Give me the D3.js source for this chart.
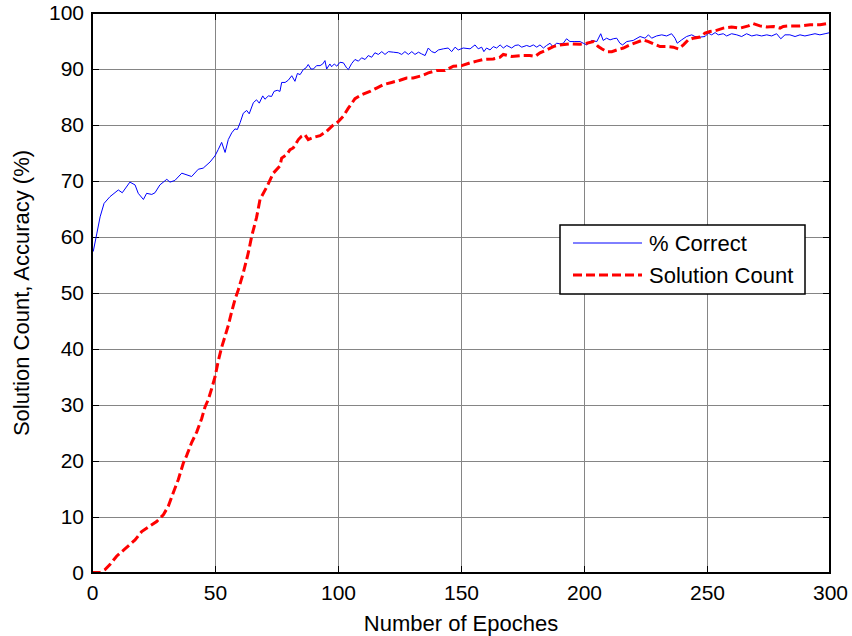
<!DOCTYPE html>
<html lang="en">
<head>
<meta charset="UTF-8">
<title>Solution Count and Accuracy</title>
<script src="https://d3js.org/d3.v7.min.js"></script>
<style>
    body { margin: 0; background: white; }
    svg { display: block; font-family: "Liberation Sans", Arial, sans-serif; }
    .grid line { stroke: #858585; stroke-width: 1; shape-rendering: crispEdges; }
</style>
</head>
<body>
<svg id="chart"></svg>
<script>
// epochs / values
const correctEpochs = [0.5,2,3.3,4.9,7.3,10.7,12.3,15.4,17.5,18.8,20.9,22.2,24.3,25.6,27.6,30.4,31.7,33.7,36.5,40.5,43.2,45.2,48,50,51.3,52.7,54.1,55.4,56.8,58.1,59.1,60.2,61.5,62.9,63.9,65.6,66.9,68,69.4,70.3,71.7,73,74,75.3,76.4,77.1,78.5,79.8,81.2,82.5,83.5,84.6,85.9,87,87.9,89,90,91.3,92.7,93.8,94.7,95.4,96.7,97.4,98.5,99.5,100.8,102.2,103.5,104.2,105.6,106.9,108.3,109.6,111,112.3,113.7,115,116.4,117.8,119.1,120.5,122.5,124.5,125.9,127.2,128.6,130,131.3,132.7,134,135.4,136.7,138.1,139.4,140.8,142.8,144.8,146.2,147.6,148.9,150.9,153.7,155.7,157,158.4,159.3,160.4,161.8,163.1,164.5,165.9,167.2,168.6,170.6,172,173.3,174.7,176.7,178,179.4,180.8,182.1,183.5,184.8,186.2,187.3,188.9,190.2,191.6,192.9,194.3,196.3,198.4,199.7,201.1,203.1,205.2,206.8,207.8,209.2,210.6,211.9,213.3,214.6,215.7,217.4,220,222.8,224.8,226.2,227.5,229.5,231.6,233.6,235.6,237,237.9,239.7,241.7,243.8,245.1,247.2,249.2,250.5,251.9,253.3,254.6,256.6,258,260,262.1,264.1,266.1,268.2,270.2,272.2,274.3,276.3,278.3,280,281.7,283.7,285.8,287.8,289.8,291.9,293.9,295.9,298,300];
const correctValues = [57.4,60.7,63.6,66.0,67.2,68.4,67.9,69.8,69.3,67.8,66.7,67.8,67.6,67.9,69.3,70.3,69.8,70.1,71.4,70.8,72.1,72.3,73.4,74.5,75.6,76.9,75.1,77.4,78.6,79.3,79.2,80.4,82.1,82.6,82.0,84.0,84.5,83.9,85.2,84.6,85.2,85.1,86.0,86.2,86.0,87.6,87.6,88.0,88.8,87.8,89.2,89.0,89.9,90.2,90.8,90.0,90.0,90.6,90.6,90.9,91.5,90.0,90.9,90.4,90.9,90.5,91.2,91.1,90.2,89.9,91.0,91.7,91.4,92.0,91.7,92.4,92.1,92.9,92.6,93.1,92.6,93.1,93.0,92.9,92.6,93.1,92.6,93.1,92.6,93.0,92.7,92.4,93.75,93.1,92.9,93.4,93.6,93.75,93.1,93.9,93.4,93.75,93.6,94.3,93.6,93.9,93.1,93.75,93.4,94.0,93.75,94.3,93.75,94.2,93.75,94.2,94.3,93.9,94.2,94.0,94.3,93.9,94.3,93.75,94.2,94.6,94.0,94.6,94.5,94.6,95.4,94.9,94.9,94.9,94.6,94.3,95.1,94.9,96.3,95.1,95.5,95.2,95.4,95.5,94.6,94.3,94.9,95.1,95.8,95.5,96.1,95.5,95.9,96.1,95.9,96.3,95.5,94.6,95.2,95.8,96.1,95.8,95.7,95.8,96.4,96.1,96.5,96.1,96.3,95.9,96.3,96.1,95.8,96.3,95.9,96.1,95.9,96.1,95.9,96.3,95.4,96.1,96.1,95.8,96.1,95.9,96.1,96.3,96.1,96.3,96.5];

const countEpochs = [0,3.3,5.3,7.3,10,13.4,17.5,20.2,23.6,26.3,29,31,33,35.1,37.1,38.5,40.5,42.6,44.6,45.9,47.3,48.7,50,51.3,52.7,54.1,55.4,56.8,58.1,59.5,61.5,63.5,64.9,66.9,68.3,71,73.7,76.4,77.1,79.1,80.5,81.8,83.9,85.2,86.5,87.9,90.2,92.7,95.4,98.1,100.1,102.2,104.2,106.9,109.6,113,115.7,118.4,121.8,125.2,127.9,130.6,134,136.7,140.1,143.5,146.9,150.3,153.7,156.4,159.1,163.1,165.9,167.2,170.6,174.7,178,180.1,182.1,184.8,187.5,190.2,194.3,198.4,201.1,203.8,205.8,207.2,209.2,211.3,213.3,216,218.7,221.4,224.1,226.2,228.2,230.9,233.6,236.3,238.3,240.4,242.4,244.4,247.2,249.2,251.2,253.9,256.6,260,263.4,266.8,268.8,271.5,274.3,277,279.7,281,283.7,287.8,291.9,296,298.7,300];
const countValues = [0.1,0.1,0.6,1.5,3.0,4.3,5.9,7.4,8.4,9.2,10.4,11.9,14.3,16.7,19.6,21.0,23.3,25.2,27.6,29.6,31.0,33.0,35.0,37.8,40.3,42.3,44.2,46.7,48.8,50.6,53.6,57.1,60.1,63.5,66.7,68.9,71.4,72.7,74.1,74.7,75.6,75.9,77.4,78.0,78.3,77.4,77.8,78.1,78.9,80.0,80.6,81.6,83.0,84.7,85.4,86.0,86.6,87.2,87.6,88.0,88.4,88.4,88.8,89.3,89.75,89.75,90.5,90.6,91.1,91.4,91.7,91.8,92.1,92.6,92.25,92.4,92.4,92.25,92.9,93.4,94.0,94.3,94.5,94.4,94.6,94.9,94.0,93.6,93.1,93.1,93.4,93.75,94.3,94.75,95.2,94.9,94.5,94.0,94.0,93.9,93.6,94.3,95.2,95.5,95.7,96.4,96.7,96.9,97.3,97.5,97.3,97.7,98.1,97.7,97.5,97.6,97.3,97.6,97.7,97.7,97.9,97.9,98.1,97.9];

const xTicks = [0, 50, 100, 150, 200, 250, 300];
const yTicks = [0, 10, 20, 30, 40, 50, 60, 70, 80, 90, 100];
const seriesNames = ["% Correct", "Solution Count"];

const width = 852, height = 636;
const margin = { top: 13, right: 22, bottom: 63, left: 92 };
const innerW = width - margin.left - margin.right;
const innerH = height - margin.top - margin.bottom;

const svg = d3.select("#chart").attr("width", width).attr("height", height);
const g = svg.append("g").attr("transform", `translate(${margin.left},${margin.top})`);

const x = d3.scaleLinear().domain([0, 300]).range([0, innerW]);
const y = d3.scaleLinear().domain([0, 100]).range([innerH, 0]);

// grid
const grid = g.append("g").attr("class", "grid");
grid.selectAll(".gx").data(xTicks.slice(1, -1)).enter().append("line")
    .attr("x1", d => Math.round(x(d)) + 0.5).attr("x2", d => Math.round(x(d)) + 0.5)
    .attr("y1", 0).attr("y2", innerH);
grid.selectAll(".gy").data(yTicks.slice(1, -1)).enter().append("line")
    .attr("x1", 0).attr("x2", innerW)
    .attr("y1", d => Math.round(y(d)) + 0.5).attr("y2", d => Math.round(y(d)) + 0.5);

// axes, ticks pointing inward on all four sides
const tickLen = 7;
g.append("g").attr("transform", `translate(0,${innerH})`)
    .call(d3.axisBottom(x).tickValues(xTicks).tickSizeInner(-tickLen).tickSizeOuter(0).tickPadding(12))
    .call(a => a.select(".domain").remove());
g.append("g").attr("transform", `translate(0,0)`)
    .call(d3.axisTop(x).tickValues(xTicks).tickSizeInner(-tickLen).tickSizeOuter(0).tickFormat(""))
    .call(a => a.select(".domain").remove());
g.append("g")
    .call(d3.axisLeft(y).tickValues(yTicks).tickSizeInner(-tickLen).tickSizeOuter(0).tickPadding(8))
    .call(a => a.select(".domain").remove());
g.append("g").attr("transform", `translate(${innerW},0)`)
    .call(d3.axisRight(y).tickValues(yTicks).tickSizeInner(-tickLen).tickSizeOuter(0).tickFormat(""))
    .call(a => a.select(".domain").remove());

g.selectAll(".tick line").attr("stroke", "black").attr("stroke-width", 1);
g.selectAll(".tick text").attr("fill", "black")
    .style("font-size", "21px").style("font-family", "'Liberation Sans', Arial, sans-serif");

// data lines
const line = d3.line().x(d => x(d[0])).y(d => y(d[1]));
const correct = correctEpochs.map((e, i) => [e, correctValues[i]]);
const count = countEpochs.map((e, i) => [e, countValues[i]]);

g.append("path").datum(correct).attr("d", line)
    .attr("fill", "none").attr("stroke", "#0000ff").attr("stroke-width", 1);
g.append("path").datum(count).attr("d", line)
    .attr("fill", "none").attr("stroke", "#ff0000").attr("stroke-width", 3)
    .attr("stroke-dasharray", "9,4");

// frame
g.append("rect").attr("x", 0).attr("y", 0).attr("width", innerW).attr("height", innerH)
    .attr("fill", "none").attr("stroke", "black").attr("stroke-width", 2);

// axis labels
svg.append("text").attr("x", margin.left + innerW / 2).attr("y", 631)
    .attr("text-anchor", "middle").style("font-size", "22px").text("Number of Epoches");
svg.append("text").attr("transform", `translate(29,${margin.top + innerH / 2}) rotate(-90)`)
    .attr("text-anchor", "middle").style("font-size", "22px").text("Solution Count, Accuracy (%)");

// legend
const lg = svg.append("g").attr("transform", "translate(560,225)");
lg.append("rect").attr("width", 245).attr("height", 69)
    .attr("fill", "white").attr("stroke", "black").attr("stroke-width", 1.5);
const legendStyles = [
    { color: "#0000ff", w: 1, dash: null },
    { color: "#ff0000", w: 3, dash: "9,4" }
];
seriesNames.forEach((name, i) => {
    const yy = 18 + i * 32;
    lg.append("line").attr("x1", 13).attr("x2", 82).attr("y1", yy).attr("y2", yy)
        .attr("stroke", legendStyles[i].color).attr("stroke-width", legendStyles[i].w)
        .attr("stroke-dasharray", legendStyles[i].dash);
    lg.append("text").attr("x", 89).attr("y", yy + 8).style("font-size", "22px").text(name);
});
</script>
</body>
</html>
